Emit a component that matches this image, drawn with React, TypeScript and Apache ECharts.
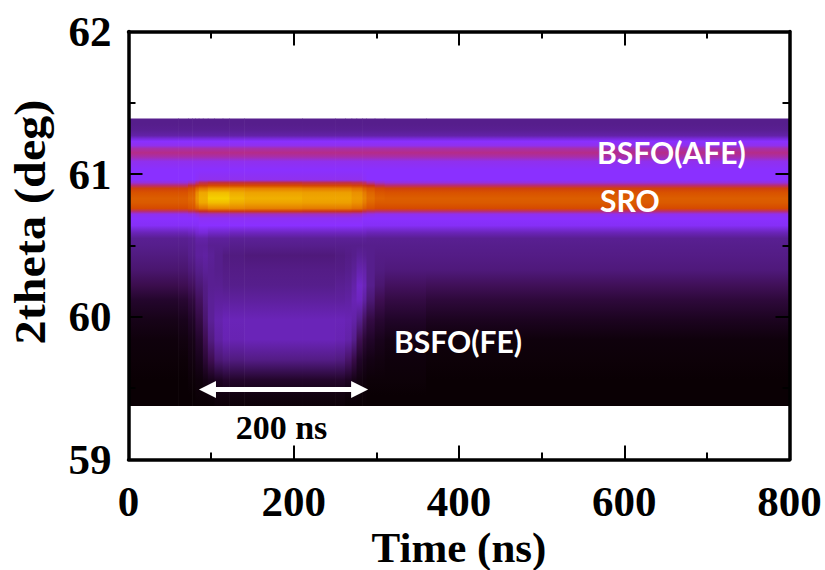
import React, { useEffect, useRef } from "react";
import * as echarts from "echarts";

const xTicks = [0, 200, 400, 600, 800];
const yTicks = [59, 60, 61, 62];

// 2theta of each sampled row, top of the map to the bottom
const rowAngles = [
  61.39, 61.35, 61.31, 61.27, 61.25, 61.23, 61.2, 61.18, 61.15, 61.12, 61.09, 61.03, 60.96, 60.94,
  60.92, 60.9, 60.87, 60.83, 60.8, 60.76, 60.74, 60.72, 60.69, 60.64, 60.59, 60.55, 60.5,
  60.43, 60.33, 60.22, 60.12, 59.98, 59.84, 59.7, 59.56, 59.45, 59.375,
];

// intensity profiles (0-100) of the upper part: AFE + SRO bands
const upBg = [28, 28, 29, 33, 40, 45, 47, 54, 58, 54, 47, 45, 45, 49, 60, 70, 74, 77, 76, 72, 60, 47, 45, 44, 36, 29, 28];
const upRise1 = [28, 28, 29, 33, 40, 45, 47, 54, 58, 54, 47, 45, 45, 52, 64, 72, 77, 80, 78, 74, 62, 48, 45, 44, 37, 30, 29];
const upRise2 = [28, 28, 29, 33, 40, 45, 47, 54, 58, 54, 47, 45, 46, 58, 68, 78, 86, 88, 86, 78, 64, 50, 45, 44, 39, 33, 31];
const upRise3 = [28, 28, 29, 33, 40, 45, 47, 54, 58, 54, 47, 45, 47, 62, 70, 82, 92, 94, 92, 82, 66, 52, 46, 45, 40, 33, 31];
const upPeak = [28, 28, 29, 33, 40, 45, 47, 54, 58, 54, 47, 45, 47, 64, 72, 85, 96, 99, 96, 85, 68, 52, 46, 45, 38, 31, 29];
const upPeak2 = [28, 28, 29, 33, 40, 45, 47, 54, 58, 54, 47, 45, 47, 64, 72, 85, 93, 96, 93, 85, 68, 52, 46, 45, 37, 30, 28];
const upMid = [28, 28, 29, 33, 40, 45, 47, 54, 58, 54, 47, 45, 47, 64, 72, 84, 91, 94, 91, 84, 68, 52, 46, 45, 37, 30, 28];
const upLate = [28, 28, 29, 33, 40, 45, 47, 54, 58, 54, 47, 45, 47, 63, 71, 83, 90, 92, 90, 83, 67, 52, 46, 45, 37, 30, 28];
const upEnd = [28, 28, 29, 33, 40, 45, 47, 54, 58, 54, 47, 45, 47, 62, 70, 81, 87, 89, 87, 81, 66, 51, 46, 45, 37, 30, 28];
const upFall1 = [28, 28, 29, 33, 40, 45, 47, 54, 58, 54, 47, 45, 46, 60, 68, 77, 83, 85, 83, 77, 63, 49, 45, 44, 37, 30, 28];
const upFall2 = [28, 28, 29, 33, 40, 45, 47, 54, 58, 54, 47, 45, 45, 55, 66, 74, 79, 81, 79, 74, 61, 48, 45, 44, 36, 29, 28];
const upFall3 = [28, 28, 29, 33, 40, 45, 47, 54, 58, 54, 47, 45, 45, 51, 62, 71, 75, 78, 76, 72, 60, 47, 45, 44, 36, 29, 28];

// intensity profiles (0-100) of the lower part: BSFO(FE) region
const lowPre = [26, 23, 17, 10, 5, 2, 1, 0, 0, 0];
const lowA = [26, 23, 18, 11, 6, 3, 1, 0, 0, 0];
const lowB = [28, 25, 20, 14, 9, 5, 3, 1, 0, 0];
const lowC = [31, 28, 24, 20, 15, 10, 6, 2, 1, 0];
const lowD = [32, 30, 27, 26, 23, 18, 12, 4, 1, 0];
const lowE = [30, 29, 29, 30, 30, 26, 18, 6, 2, 0];
const lowF = [28, 28, 29, 31, 34, 32, 24, 8, 3, 1];
const lowG = [26, 27, 28, 31, 36, 35, 26, 10, 3, 1];
const lowH = [25, 27, 28, 31, 36, 36, 27, 10, 3, 1];
const lowI = [26, 27, 29, 31, 36, 35, 26, 10, 3, 1];
const lowJ = [27, 28, 30, 32, 35, 33, 22, 8, 2, 0];
const lowK = [28, 30, 33, 35, 33, 28, 16, 5, 2, 0];
const lowL = [30, 34, 38, 37, 28, 18, 9, 3, 1, 0];
const lowM = [29, 33, 36, 32, 21, 12, 6, 2, 1, 0];
const lowN = [28, 28, 28, 24, 15, 9, 4, 1, 0, 0];
const lowO = [27, 26, 23, 18, 11, 6, 3, 1, 0, 0];
const lowP = [27, 25, 20, 15, 9, 4, 2, 1, 0, 0];
const lowBg = [27, 25, 19, 13, 7, 2, 1, 0, 0, 0];

// time columns: start (ns), end (ns), upper profile, lower profile
const timeColumns: [number, number, number[], number[]][] = [
  [0, 60, upBg, lowPre],
  [60, 72, upBg, lowA],
  [72, 77, upRise1, lowB],
  [77, 81, upRise1, lowB],
  [81, 85, upRise2, lowC],
  [85, 90, upRise3, lowC],
  [90, 96, upRise3, lowD],
  [96, 104, upPeak, lowE],
  [104, 114, upPeak, lowF],
  [114, 122, upPeak, lowG],
  [122, 140, upPeak2, lowG],
  [140, 210, upMid, lowH],
  [210, 250, upLate, lowH],
  [250, 262, upLate, lowI],
  [262, 270, upLate, lowJ],
  [270, 276, upEnd, lowK],
  [276, 283, upEnd, lowL],
  [283, 288, upFall1, lowM],
  [288, 298, upFall2, lowN],
  [298, 310, upFall3, lowO],
  [310, 360, upBg, lowP],
  [360, 800, upBg, lowBg],
];

const pulseArrow = [85.3, 290, 59.49];

const intensityStops: [number, number[]][] = [
  [0, [10, 0, 4]],
  [8, [30, 4, 36]],
  [18, [62, 14, 82]],
  [28, [86, 30, 140]],
  [36, [106, 36, 184]],
  [45, [138, 48, 255]],
  [52, [160, 47, 192]],
  [58, [181, 44, 136]],
  [66, [200, 48, 32]],
  [72, [214, 74, 0]],
  [80, [224, 106, 0]],
  [88, [236, 150, 0]],
  [94, [240, 176, 0]],
  [100, [246, 216, 0]],
];

function intensityColor(v: number): string {
  if (v <= 0) return "rgb(10,0,4)";
  for (let i = 1; i < intensityStops.length; i++) {
    const [v1, c1] = intensityStops[i];
    if (v <= v1) {
      const [v0, c0] = intensityStops[i - 1];
      const f = (v - v0) / (v1 - v0);
      const c = c0.map((a, k) => Math.round(a + (c1[k] - a) * f));
      return `rgb(${c[0]},${c[1]},${c[2]})`;
    }
  }
  return "rgb(246,216,0)";
}

const SERIF = "Liberation Serif";
const SANS = "Lato";

function axisCommon(showLabel: boolean, fmtInterval: number) {
  return {
    z: 10,
    axisLine: { show: true, onZero: false, lineStyle: { color: "#000", width: 3.5 } },
    axisTick: { show: true, inside: true, length: 14, lineStyle: { color: "#000", width: 2 } },
    minorTick: { show: true, splitNumber: 2, length: 7, lineStyle: { color: "#000", width: 2 } },
    splitLine: { show: false },
    minorSplitLine: { show: false },
    interval: fmtInterval,
    axisLabel: {
      show: showLabel,
      color: "#000",
      fontFamily: SERIF,
      fontWeight: "bold" as const,
      fontSize: 43,
      margin: 20,
      showMinLabel: true,
      showMaxLabel: true,
    },
  };
}

export default function App() {
  const ref = useRef<HTMLDivElement>(null);

  useEffect(() => {
    document.body.style.margin = "0";
    const chart = echarts.init(ref.current!, undefined, { renderer: "svg" });
    const top = rowAngles[0];
    const span = rowAngles[0] - rowAngles[rowAngles.length - 1];
    chart.setOption({
      animation: false,
      backgroundColor: "#fff",
      grid: { left: 128.5, top: 31.5, width: 661, height: 428, containLabel: false, outerBoundsMode: "none" },
      xAxis: [
        {
          type: "value",
          min: xTicks[0],
          max: xTicks[xTicks.length - 1],
          position: "bottom",
          name: "Time (ns)",
          nameLocation: "middle",
          nameGap: 68,
          nameMoveOverlap: false,
          nameTextStyle: { color: "#000", fontFamily: SERIF, fontWeight: "bold", fontSize: 43, lineHeight: 40 },
          ...axisCommon(true, 200),
          axisLabel: { ...axisCommon(true, 200).axisLabel, margin: 23, lineHeight: 38 },
        },
        {
          type: "value",
          min: xTicks[0],
          max: xTicks[xTicks.length - 1],
          position: "top",
          ...axisCommon(false, 200),
        },
      ],
      yAxis: [
        {
          type: "value",
          min: yTicks[0],
          max: yTicks[yTicks.length - 1],
          position: "left",
          ...axisCommon(true, 1),
          axisLabel: { ...axisCommon(true, 1).axisLabel, margin: 17 },
        },
        {
          type: "value",
          min: yTicks[0],
          max: yTicks[yTicks.length - 1],
          position: "right",
          ...axisCommon(false, 1),
        },
      ],
      series: [
        {
          type: "custom",
          name: "XRD intensity",
          silent: true,
          z: 2,
          clip: false,
          data: timeColumns.map((c, i) => [c[0], c[1], i]),
          encode: { x: [0, 1] },
          renderItem: (_p: any, api: any) => {
            const col = timeColumns[api.value(2)];
            const profile = [...col[2], ...col[3]];
            const p0 = api.coord([api.value(0), rowAngles[0]]);
            const p1 = api.coord([api.value(1), rowAngles[rowAngles.length - 1]]);
            const stops = rowAngles.map((a, i) => ({
              offset: (top - a) / span,
              color: intensityColor(profile[i]),
            }));
            return {
              type: "rect",
              shape: { x: p0[0], y: p0[1], width: p1[0] - p0[0] + 0.6, height: p1[1] - p0[1] },
              style: { fill: new echarts.graphic.LinearGradient(0, 0, 0, 1, stops), stroke: "none" },
            };
          },
        },
        {
          type: "custom",
          name: "200 ns arrow",
          silent: true,
          z: 3,
          data: [pulseArrow],
          encode: { x: [0, 1] },
          renderItem: (_p: any, api: any) => {
            const a = api.coord([api.value(0), api.value(2)]);
            const b = api.coord([api.value(1), api.value(2)]);
            const head = 17;
            const halfH = 8.5;
            const halfS = 2.5;
            return {
              type: "polygon",
              shape: {
                points: [
                  [a[0], a[1]],
                  [a[0] + head, a[1] - halfH],
                  [a[0] + head, a[1] - halfS],
                  [b[0] - head, a[1] - halfS],
                  [b[0] - head, a[1] - halfH],
                  [b[0], a[1]],
                  [b[0] - head, a[1] + halfH],
                  [b[0] - head, a[1] + halfS],
                  [a[0] + head, a[1] + halfS],
                  [a[0] + head, a[1] + halfH],
                ],
              },
              style: { fill: "#fff", stroke: "none" },
            };
          },
        },
      ],
      graphic: [
        {
          type: "text",
          x: 30,
          y: 222,
          rotation: Math.PI / 2,
          scaleX: 1.095,
          z: 20,
          style: {
            text: "2theta (deg)",
            fill: "#000",
            font: `bold 44px "${SERIF}"`,
            align: "center",
            verticalAlign: "middle",
          },
        },
        {
          type: "text",
          x: 597,
          y: 152,
          z: 20,
          style: { text: "BSFO(AFE)", fill: "#fff", font: `bold 30px "${SANS}"`, align: "left", verticalAlign: "middle" },
        },
        {
          type: "text",
          x: 600,
          y: 200,
          z: 20,
          style: { text: "SRO", fill: "#fff", font: `bold 30px "${SANS}"`, align: "left", verticalAlign: "middle" },
        },
        {
          type: "text",
          x: 394,
          y: 341,
          z: 20,
          style: { text: "BSFO(FE)", fill: "#fff", font: `bold 30px "${SANS}"`, align: "left", verticalAlign: "middle" },
        },
        {
          type: "text",
          x: 281.5,
          y: 427,
          z: 20,
          style: { text: "200 ns", fill: "#000", font: `bold 34px "${SERIF}"`, align: "center", verticalAlign: "middle" },
        },
      ],
    });
    return () => chart.dispose();
  }, []);

  return <div ref={ref} style={{ width: 825, height: 570 }} />;
}
